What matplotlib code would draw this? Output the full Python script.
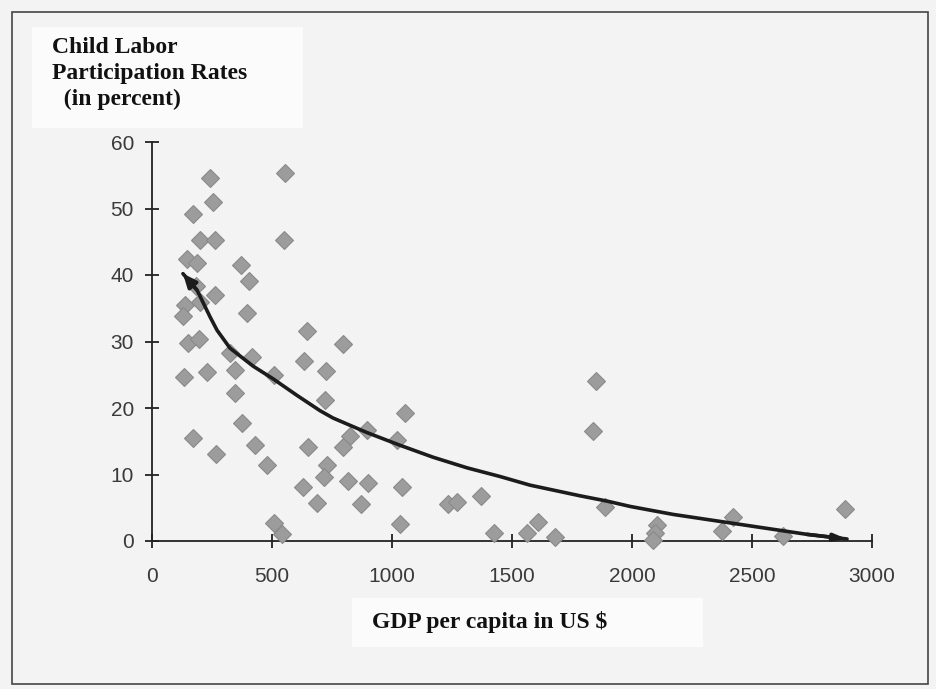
import matplotlib
matplotlib.use('Agg')
import matplotlib.pyplot as plt
from matplotlib.patches import Rectangle

# ---- data
gdp = [242, 554, 254, 171, 200, 262, 550, 146, 188, 371,
       404, 183, 262, 137, 200, 129, 396, 646, 150, 196,
       325, 417, 633, 133, 229, 346, 508, 346, 375, 171,
       429, 267, 479, 650, 629, 688, 508, 796, 725, 721,
       1054, 896, 825, 1021, 796, 729, 717, 817, 900, 1042,
       871, 1233, 1271, 1371, 1033, 1850, 1838, 1888, 1608, 2104,
       2096, 2088, 2888, 2421, 2375, 2629, 542, 1425, 1563, 1679]
child_labor = [54.6, 55.3, 51.0, 49.2, 45.3, 45.3, 45.3, 42.4, 41.8, 41.5,
               39.1, 38.3, 37.0, 35.5, 36.0, 33.8, 34.3, 31.6, 29.8, 30.4,
               28.3, 27.7, 27.1, 24.7, 25.4, 25.7, 25.0, 22.3, 17.7, 15.5,
               14.4, 13.1, 11.4, 14.1, 8.1, 5.7, 2.7, 29.6, 25.6, 21.2,
               19.2, 16.7, 15.8, 15.2, 14.1, 11.4, 9.6, 9.0, 8.7, 8.1,
               5.6, 5.6, 5.9, 6.8, 2.6, 24.1, 16.5, 5.1, 2.9, 2.4,
               1.2, 0.2, 4.8, 3.6, 1.5, 0.8, 1.0, 1.2, 1.2, 0.6]

# hand-drawn trend curve
trend_x = [129, 188, 242, 271, 325, 421, 504, 604, 700, 754, 896, 1033,
           1171, 1313, 1450, 1575, 1783, 1896, 1992, 2171, 2450, 2729, 2896]
trend_y = [40.2, 37.7, 33.7, 31.7, 29.0, 26.3, 24.4, 21.9, 19.6, 18.5, 16.3, 14.4,
           12.6, 11.0, 9.7, 8.4, 6.8, 6.0, 5.2, 4.0, 2.5, 1.0, 0.3]

x_ticks = [0, 500, 1000, 1500, 2000, 2500, 3000]
y_ticks = [0, 10, 20, 30, 40, 50, 60]

PAPER = '#f3f3f3'
BOX = '#fbfbfb'
INK = '#1c1c1c'
MARK = '#9c9c9c'

fig = plt.figure(figsize=(9.36, 6.89), dpi=100, facecolor=PAPER)
W, H = 936, 689

def px_rect(x0, y0, x1, y1, **kw):
    # rectangle given in image pixels (top-left origin)
    return Rectangle((x0 / W, 1 - y1 / H), (x1 - x0) / W, (y1 - y0) / H,
                     transform=fig.transFigure, **kw)

fig.patches.append(px_rect(12, 12, 928, 684, facecolor='none', edgecolor='#444444', lw=1.2))
fig.patches.append(px_rect(32, 27, 303, 128, facecolor=BOX, edgecolor='none'))
fig.patches.append(px_rect(352, 598, 703, 647, facecolor=BOX, edgecolor='none'))

ax = fig.add_axes([152 / W, 1 - 541 / H, 720 / W, 399 / H])
ax.set_facecolor('none')

ax.plot(gdp, child_labor, linestyle='none', marker='D', markersize=9,
        markerfacecolor=MARK, markeredgecolor='#8a8a8a', markeredgewidth=0.8,
        clip_on=False, zorder=3)

ax.plot(trend_x, trend_y, color=INK, lw=2.6, solid_capstyle='round', zorder=4, clip_on=False)
# arrowheads at both ends of the drawn curve
ax.annotate('', xy=(trend_x[0], trend_y[0]), xytext=(trend_x[1], trend_y[1]),
            arrowprops=dict(arrowstyle='-|>,head_length=0.8,head_width=0.35',
                            color=INK, lw=2.6, shrinkA=0, shrinkB=0),
            zorder=5, annotation_clip=False)
ax.annotate('', xy=(trend_x[-1], trend_y[-1]), xytext=(trend_x[-2], trend_y[-2]),
            arrowprops=dict(arrowstyle='-|>,head_length=0.7,head_width=0.2',
                            color=INK, lw=2.6, shrinkA=0, shrinkB=0),
            zorder=5, annotation_clip=False)

ax.set_xlim(0, 3000)
ax.set_ylim(0, 60)
ax.set_xticks(x_ticks)
ax.set_yticks(y_ticks)

for s in ['top', 'right']:
    ax.spines[s].set_visible(False)
for s in ['left', 'bottom']:
    ax.spines[s].set_color('#222222')
    ax.spines[s].set_linewidth(1.3)

ax.tick_params(axis='both', direction='inout', length=10, width=1.3, color='#222222',
               labelsize=15, labelcolor='#3a3a3a')
ax.tick_params(axis='x', pad=14)
ax.tick_params(axis='y', pad=8)
for lab in ax.get_xticklabels() + ax.get_yticklabels():
    lab.set_fontfamily('Liberation Sans')

fig.text(52 / W, 1 - 37 / H, 'Child Labor\nParticipation Rates\n  (in percent)',
         ha='left', va='top', fontsize=17, fontweight='bold', fontfamily='Liberation Serif',
         color='#111111', linespacing=1.3)
fig.text(372 / W, 1 - 622 / H, 'GDP per capita in US $',
         ha='left', va='center', fontsize=17, fontweight='bold', fontfamily='Liberation Serif',
         color='#111111')

fig.savefig('out.png', dpi=100, facecolor=PAPER)
